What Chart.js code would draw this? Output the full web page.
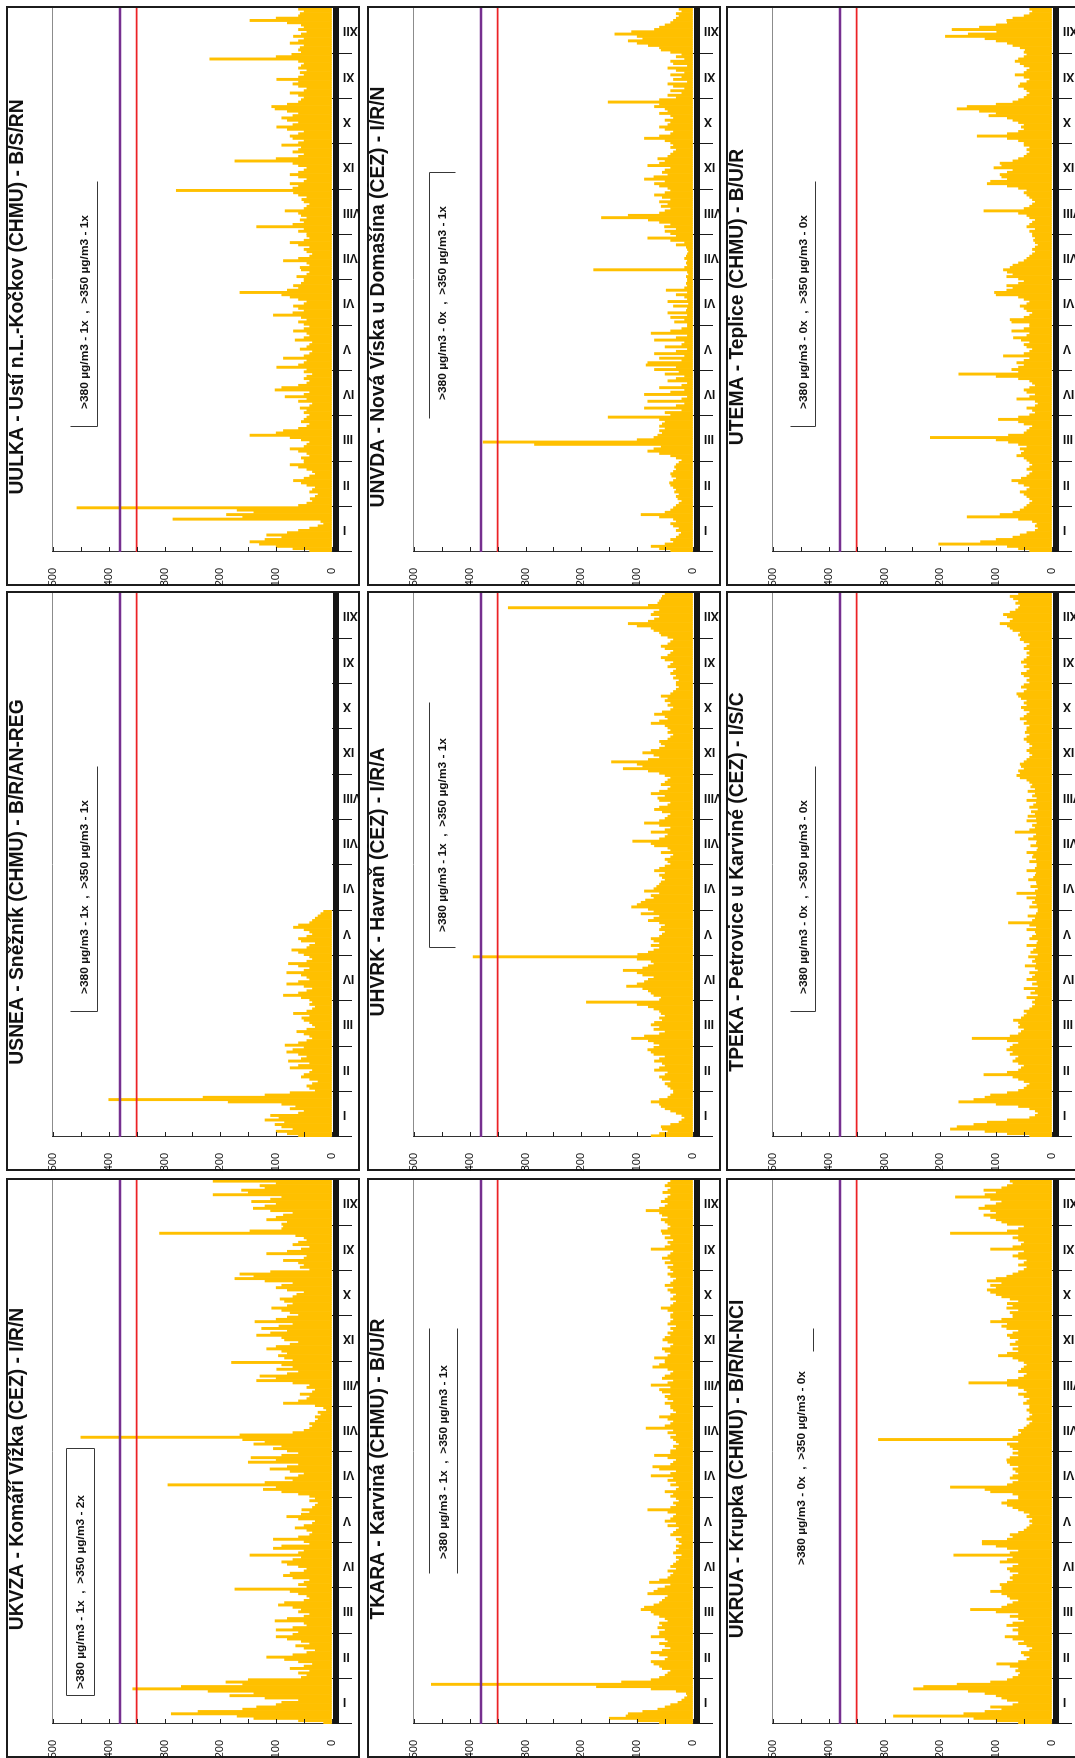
<!DOCTYPE html>
<html lang="cs">
<head>
<meta charset="utf-8">
<title>SO2 – hodinové koncentrace</title>
<script src="https://cdn.jsdelivr.net/npm/chart.js@4.4.1/dist/chart.umd.min.js"></script>
<style>
  html, body { margin: 0; padding: 0; background: #fff; }
  body { width: 1075px; height: 1758px; overflow: hidden; position: relative; }
  /* landscape sheet, turned to portrait */
  #sheet {
    position: absolute; left: 0; top: 0;
    width: 1758px; height: 1075px;
    transform-origin: 0 0;
    transform: translateY(1758px) rotate(-90deg);
    background: #fff;
  }
  .panel {
    position: absolute; width: 580px; height: 354px;
    box-sizing: border-box; border: 2px solid #1c1c1c;
  }
  .panel canvas { position: absolute; left: -2px; top: -2px; }
</style>
</head>
<body>
<div id="sheet"></div>
<script>
// ---- data -------------------------------------------------------------
const MONTHS = ['I', 'II', 'III', 'IV', 'V', 'VI', 'VII', 'VIII', 'IX', 'X', 'XI', 'XII'];
const SAMPLES_PER_MONTH = 20;
const LIMITS = [380, 350];

const STATION_TITLES = [
  'UKVZA - Komáří Vížka (ČEZ) - I/R/N',
  'USNEA - Sněžník (ČHMÚ) - B/R/AN-REG',
  'UULKA - Ústí n.L.-Kočkov (ČHMÚ) - B/S/RN',
  'TKARA - Karviná (ČHMÚ) - B/U/R',
  'UHVRK - Havraň (ČEZ) - I/R/A',
  'UNVDA - Nová Víska u Domašína (ČEZ) - I/R/N',
  'UKRUA - Krupka (ČHMÚ) - B/R/N-NCI',
  'TPEKA - Petrovice u Karviné (ČEZ) - I/S/C',
  'UTEMA - Teplice (ČHMÚ) - B/U/R'
];
const OVER_380 = [1, 1, 1, 1, 1, 0, 0, 0, 0];
const OVER_350 = [2, 1, 1, 1, 1, 1, 0, 0, 0];

// SO2 [µg/m3], one row per month
const UKVZA = [
  [15, 60, 140, 170, 288, 240, 160, 135, 100, 90, 60, 120, 183, 140, 222, 357, 270, 160, 190, 150],
  [55, 45, 60, 40, 75, 50, 35, 60, 85, 117, 70, 45, 30, 50, 65, 40, 55, 80, 100, 70],
  [60, 100, 70, 45, 50, 102, 80, 50, 40, 60, 55, 70, 96, 85, 50, 40, 45, 60, 75, 174],
  [45, 60, 50, 40, 70, 87, 75, 50, 45, 60, 80, 90, 70, 55, 147, 60, 50, 105, 90, 40],
  [50, 105, 60, 40, 35, 45, 66, 50, 35, 30, 60, 81, 55, 40, 54, 35, 30, 25, 40, 30],
  [40, 60, 90, 123, 100, 294, 120, 70, 84, 60, 50, 75, 111, 80, 60, 150, 100, 145, 90, 60],
  [80, 105, 90, 140, 120, 160, 450, 165, 70, 50, 40, 35, 40, 30, 25, 30, 20, 25, 10, 15],
  [30, 87, 60, 45, 40, 57, 35, 30, 45, 40, 70, 135, 100, 129, 80, 60, 99, 70, 90, 180],
  [70, 85, 96, 80, 90, 117, 100, 75, 60, 85, 90, 135, 110, 80, 126, 95, 70, 138, 100, 80],
  [60, 75, 90, 108, 80, 70, 85, 93, 70, 63, 50, 80, 100, 90, 70, 120, 174, 140, 165, 110],
  [40, 57, 50, 60, 87, 50, 45, 117, 80, 55, 40, 70, 60, 45, 50, 65, 309, 147, 90, 87],
  [90, 80, 117, 100, 87, 70, 110, 141, 120, 100, 144, 110, 90, 213, 150, 162, 120, 129, 100, 213]
];
const USNEA = [
  [60, 80, 100, 70, 90, 102, 85, 120, 95, 110, 60, 50, 75, 65, 90, 186, 400, 231, 120, 75],
  [30, 40, 45, 35, 25, 40, 55, 50, 40, 35, 75, 60, 40, 78, 55, 45, 60, 81, 70, 50],
  [84, 60, 45, 35, 40, 50, 63, 45, 30, 35, 40, 50, 54, 40, 69, 45, 35, 30, 40, 35],
  [40, 55, 87, 60, 45, 35, 50, 81, 60, 40, 45, 55, 81, 50, 40, 60, 78, 45, 35, 40],
  [50, 60, 72, 45, 40, 30, 55, 60, 45, 35, 40, 50, 69, 60, 40, 35, 30, 25, 20, 15],
  [], [], [], [], [], [], []
];
const UULKA = [
  [40, 70, 100, 130, 147, 120, 90, 117, 80, 60, 40, 25, 15, 20, 285, 160, 189, 140, 170, 457],
  [60, 45, 35, 39, 30, 25, 40, 35, 30, 45, 55, 69, 50, 40, 30, 35, 45, 60, 75, 50],
  [50, 55, 40, 45, 60, 75, 50, 45, 40, 55, 75, 147, 100, 87, 60, 45, 40, 55, 50, 45],
  [40, 50, 45, 57, 40, 35, 60, 45, 84, 50, 40, 102, 90, 60, 45, 40, 50, 45, 35, 50],
  [45, 99, 60, 50, 45, 87, 50, 40, 35, 57, 45, 40, 35, 66, 50, 40, 45, 69, 50, 40],
  [50, 60, 45, 55, 105, 70, 50, 60, 69, 50, 45, 60, 75, 90, 165, 80, 60, 69, 55, 50],
  [50, 63, 45, 40, 55, 57, 40, 45, 87, 60, 40, 35, 45, 50, 40, 60, 75, 50, 40, 45],
  [45, 60, 50, 135, 70, 50, 57, 45, 55, 60, 84, 50, 45, 40, 50, 54, 45, 60, 69, 279],
  [70, 60, 75, 50, 45, 60, 75, 60, 50, 45, 60, 70, 174, 100, 60, 50, 70, 60, 55, 90],
  [60, 50, 70, 75, 60, 50, 80, 99, 70, 60, 80, 90, 70, 60, 80, 102, 108, 80, 60, 55],
  [50, 60, 75, 50, 45, 60, 70, 60, 99, 60, 50, 57, 45, 60, 55, 50, 60, 219, 100, 72],
  [55, 60, 57, 50, 75, 60, 50, 69, 55, 45, 60, 50, 55, 80, 147, 100, 60, 57, 50, 60]
];
const TKARA = [
  [60, 100, 150, 120, 116, 90, 63, 50, 40, 27, 20, 15, 10, 12, 30, 75, 173, 469, 128, 75],
  [60, 50, 45, 40, 55, 60, 70, 75, 50, 45, 60, 75, 55, 40, 50, 60, 45, 50, 75, 60],
  [60, 50, 63, 55, 60, 45, 50, 60, 70, 75, 93, 87, 70, 60, 55, 50, 45, 81, 70, 63],
  [50, 40, 78, 60, 45, 40, 35, 45, 30, 40, 35, 30, 25, 30, 20, 35, 30, 25, 30, 20],
  [25, 30, 20, 40, 35, 30, 25, 45, 30, 50, 40, 35, 30, 45, 81, 40, 30, 35, 25, 30],
  [40, 35, 50, 30, 25, 40, 30, 45, 35, 75, 40, 30, 60, 72, 40, 35, 30, 45, 69, 40],
  [40, 30, 35, 25, 30, 35, 40, 30, 45, 35, 84, 50, 40, 35, 45, 60, 40, 30, 35, 40],
  [40, 50, 35, 45, 50, 40, 55, 60, 40, 75, 45, 35, 55, 50, 40, 35, 45, 72, 60, 50],
  [50, 69, 45, 40, 50, 55, 40, 35, 45, 54, 50, 40, 45, 35, 40, 30, 45, 40, 35, 40],
  [40, 35, 45, 57, 40, 35, 30, 40, 35, 30, 40, 45, 35, 50, 40, 35, 30, 40, 45, 35],
  [40, 45, 35, 50, 40, 55, 45, 40, 35, 75, 50, 40, 45, 35, 50, 40, 55, 57, 45, 40],
  [45, 50, 57, 45, 55, 60, 84, 60, 50, 45, 57, 50, 45, 40, 54, 45, 40, 50, 45, 40]
];
const UHVRK = [
  [75, 60, 45, 55, 57, 40, 25, 20, 15, 20, 30, 40, 50, 57, 60, 75, 60, 45, 40, 35],
  [35, 40, 45, 50, 40, 55, 60, 50, 45, 69, 60, 50, 55, 69, 60, 50, 70, 75, 81, 70],
  [60, 70, 80, 110, 87, 60, 50, 70, 60, 75, 69, 55, 60, 50, 57, 60, 70, 80, 100, 191],
  [60, 57, 70, 75, 80, 90, 119, 100, 87, 80, 70, 90, 100, 125, 90, 80, 70, 75, 100, 394],
  [99, 80, 70, 60, 75, 60, 70, 75, 60, 55, 50, 60, 57, 50, 60, 80, 70, 60, 93, 70],
  [80, 110, 100, 93, 85, 70, 75, 60, 87, 70, 65, 60, 57, 50, 55, 60, 50, 69, 60, 50],
  [40, 45, 50, 40, 35, 57, 40, 45, 69, 75, 108, 60, 50, 45, 75, 50, 40, 60, 87, 60],
  [50, 45, 40, 55, 69, 60, 45, 40, 60, 63, 50, 75, 60, 45, 40, 57, 50, 45, 40, 50],
  [60, 80, 125, 90, 100, 146, 80, 60, 70, 90, 75, 60, 50, 57, 60, 45, 40, 35, 45, 40],
  [45, 50, 75, 60, 45, 50, 69, 55, 40, 35, 45, 40, 50, 45, 57, 40, 35, 30, 25, 30],
  [30, 25, 35, 30, 40, 35, 30, 45, 40, 35, 50, 57, 45, 40, 35, 50, 57, 45, 40, 35],
  [45, 57, 60, 70, 75, 100, 116, 80, 69, 60, 75, 70, 60, 331, 80, 63, 60, 57, 55, 50]
];
const UNVDA = [
  [40, 60, 75, 50, 35, 40, 30, 25, 21, 30, 25, 35, 40, 30, 35, 60, 93, 50, 40, 35],
  [30, 25, 20, 27, 30, 25, 33, 30, 35, 40, 42, 35, 30, 38, 40, 35, 30, 33, 30, 25],
  [20, 30, 40, 60, 81, 70, 57, 284, 376, 100, 70, 63, 55, 60, 50, 60, 55, 50, 60, 152],
  [40, 50, 20, 87, 30, 15, 81, 20, 10, 87, 40, 15, 60, 20, 10, 45, 30, 15, 50, 25],
  [69, 30, 84, 81, 20, 60, 15, 69, 30, 10, 50, 20, 15, 69, 30, 10, 75, 40, 20, 10],
  [10, 33, 15, 40, 10, 45, 12, 10, 35, 8, 45, 10, 15, 30, 10, 48, 15, 10, 12, 10],
  [10, 12, 8, 10, 178, 15, 10, 12, 10, 15, 12, 10, 8, 10, 12, 30, 15, 40, 81, 30],
  [40, 50, 30, 51, 40, 60, 80, 164, 116, 60, 50, 40, 57, 45, 60, 40, 55, 69, 50, 40],
  [45, 60, 69, 50, 87, 70, 45, 55, 50, 40, 81, 60, 50, 63, 45, 40, 35, 30, 40, 35],
  [40, 50, 87, 60, 40, 35, 50, 60, 45, 40, 50, 35, 40, 60, 45, 50, 69, 60, 152, 60],
  [30, 45, 20, 40, 15, 35, 45, 10, 35, 20, 40, 15, 30, 45, 10, 35, 40, 15, 30, 20],
  [40, 57, 60, 80, 100, 116, 90, 100, 140, 110, 69, 60, 50, 40, 35, 30, 25, 30, 20, 25]
];
const UKRUA = [
  [60, 100, 140, 284, 158, 120, 90, 110, 70, 60, 80, 90, 100, 120, 150, 248, 230, 170, 110, 80],
  [70, 60, 57, 65, 60, 75, 99, 60, 45, 40, 50, 55, 40, 35, 45, 60, 50, 70, 84, 60],
  [60, 70, 60, 81, 70, 50, 60, 75, 60, 100, 146, 90, 80, 70, 60, 75, 80, 90, 110, 90],
  [90, 93, 80, 70, 75, 70, 60, 75, 80, 70, 60, 93, 80, 70, 176, 75, 60, 80, 100, 125],
  [125, 80, 70, 75, 60, 50, 45, 40, 35, 40, 35, 45, 40, 50, 60, 70, 80, 90, 80, 60],
  [60, 70, 110, 120, 182, 80, 70, 60, 75, 70, 60, 65, 70, 60, 75, 80, 81, 75, 60, 70],
  [60, 70, 75, 80, 60, 311, 70, 60, 55, 60, 50, 45, 40, 35, 45, 40, 35, 40, 45, 40],
  [40, 51, 45, 40, 50, 60, 45, 50, 60, 80, 149, 80, 60, 50, 45, 60, 55, 50, 45, 50],
  [60, 70, 96, 80, 60, 70, 60, 75, 65, 60, 75, 80, 70, 60, 81, 90, 80, 110, 90, 70],
  [70, 75, 60, 81, 70, 80, 60, 75, 90, 100, 110, 116, 100, 110, 90, 116, 100, 81, 70, 60],
  [50, 45, 60, 50, 45, 60, 70, 60, 50, 110, 70, 55, 50, 60, 70, 60, 182, 80, 60, 50],
  [80, 90, 100, 110, 122, 100, 110, 131, 120, 100, 90, 110, 173, 120, 100, 122, 90, 80, 70, 75]
];
const TPEKA = [
  [40, 80, 120, 182, 170, 140, 116, 80, 40, 30, 25, 30, 40, 60, 100, 167, 140, 120, 110, 80],
  [60, 50, 45, 40, 50, 60, 70, 122, 80, 60, 55, 50, 60, 70, 65, 60, 75, 70, 81, 75],
  [70, 60, 80, 143, 75, 60, 55, 50, 60, 57, 60, 69, 55, 50, 45, 50, 40, 35, 30, 35],
  [30, 45, 25, 38, 30, 50, 25, 35, 27, 45, 35, 30, 40, 25, 30, 48, 28, 35, 30, 42],
  [25, 38, 33, 28, 45, 27, 25, 40, 35, 28, 30, 45, 28, 40, 78, 35, 30, 43, 28, 25],
  [25, 40, 27, 35, 30, 45, 28, 63, 30, 25, 38, 27, 28, 42, 33, 30, 28, 45, 30, 27],
  [27, 40, 28, 35, 33, 45, 27, 25, 38, 28, 27, 42, 33, 28, 66, 40, 30, 35, 27, 45],
  [28, 43, 30, 37, 25, 40, 33, 28, 45, 27, 35, 30, 43, 30, 38, 35, 40, 45, 57, 63],
  [57, 60, 50, 55, 57, 50, 45, 40, 35, 40, 45, 40, 35, 40, 45, 50, 45, 40, 48, 45],
  [45, 40, 50, 45, 57, 50, 45, 40, 50, 55, 45, 50, 45, 55, 60, 63, 50, 45, 55, 50],
  [40, 45, 40, 50, 55, 45, 40, 50, 45, 55, 50, 45, 40, 45, 40, 50, 45, 40, 50, 57],
  [55, 60, 57, 70, 75, 80, 93, 75, 70, 80, 87, 75, 65, 60, 57, 65, 60, 69, 75, 60]
];
const UTEMA = [
  [40, 60, 80, 203, 128, 100, 70, 57, 45, 30, 25, 30, 27, 35, 60, 152, 93, 70, 57, 50],
  [45, 40, 35, 40, 45, 50, 57, 45, 40, 50, 60, 72, 55, 45, 40, 35, 45, 40, 35, 40],
  [45, 50, 63, 55, 50, 57, 45, 60, 78, 100, 218, 78, 50, 45, 40, 35, 50, 60, 96, 60],
  [40, 30, 35, 45, 30, 25, 30, 63, 40, 30, 45, 50, 40, 30, 35, 40, 60, 100, 167, 60],
  [72, 60, 50, 63, 50, 40, 87, 50, 40, 35, 45, 50, 40, 55, 69, 45, 40, 72, 50, 40],
  [40, 72, 75, 50, 40, 35, 45, 50, 57, 45, 40, 50, 60, 100, 103, 81, 70, 81, 60, 50],
  [60, 81, 70, 80, 87, 75, 70, 60, 50, 45, 40, 35, 30, 35, 30, 25, 30, 33, 30, 35],
  [35, 40, 30, 45, 40, 35, 30, 40, 45, 60, 122, 50, 40, 35, 30, 35, 40, 45, 50, 45],
  [60, 80, 116, 110, 80, 90, 93, 80, 70, 104, 90, 93, 70, 60, 50, 45, 40, 45, 40, 50],
  [50, 60, 80, 134, 80, 60, 50, 55, 50, 60, 70, 80, 113, 100, 130, 170, 152, 100, 70, 60],
  [50, 45, 40, 45, 50, 60, 57, 45, 40, 50, 66, 50, 45, 40, 50, 57, 66, 60, 50, 45],
  [50, 48, 57, 70, 80, 100, 120, 191, 150, 99, 179, 130, 100, 80, 81, 70, 50, 40, 35, 40]
];
const SERIES = [UKVZA, USNEA, UULKA, TKARA, UHVRK, UNVDA, UKRUA, TPEKA, UTEMA];

// ---- layout & style ---------------------------------------------------
const SHEET_LEFT = [0, 587, 1172];
const SHEET_TOP = [6, 367, 726];
const BAR_COLOR = '#FFC000';
const LIMIT_STYLE = [{ color: '#762f8f', width: 2.5 }, { color: '#ec2226', width: 1.8 }];
const NOTE_WIDTH = 194;
// note frame per panel: x-range, y-range, drawn edges (T,B,L,R), text centre
const NOTE_BOX = [
  { x0: 62, x1: 309, y0: 60, y1: 88, edges: 'TBLR', cx: 166 },
  { x0: 159, x1: 404, y0: 64, y1: 91, edges: 'LB', cx: 274 },
  { x0: 159, x1: 404, y0: 64, y1: 91, edges: 'LB', cx: 274 },
  { x0: 184, x1: 429, y0: 62, y1: 90, edges: 'TB', cx: 296 },
  { x0: 223, x1: 468, y0: 62, y1: 88, edges: 'TL', cx: 336 },
  { x0: 167, x1: 413, y0: 62, y1: 88, edges: 'TR', cx: 283 },
  { x0: 406, x1: 429, y0: 62, y1: 87, edges: 'B', cx: 290 },
  { x0: 159, x1: 404, y0: 64, y1: 89, edges: 'LB', cx: 274 },
  { x0: 159, x1: 404, y0: 64, y1: 89, edges: 'LB', cx: 274 }
];

Chart.defaults.font.family = '"Liberation Sans", Arial, Helvetica, sans-serif';
Chart.defaults.color = '#111';

// limit lines, heavy time axis, inner value ticks and the exceedance note
const panelDecor = {
  id: 'panelDecor',
  afterDatasetsDraw(chart, _args, opts) {
    const { ctx, chartArea: a } = chart;
    const y = chart.scales.y;
    ctx.save();

    LIMITS.forEach((v, k) => {
      const py = y.getPixelForValue(v);
      ctx.beginPath();
      ctx.strokeStyle = LIMIT_STYLE[k].color;
      ctx.lineWidth = LIMIT_STYLE[k].width;
      ctx.moveTo(a.left, py);
      ctx.lineTo(a.right, py);
      ctx.stroke();
    });

    ctx.fillStyle = '#151515';
    ctx.fillRect(a.left, a.bottom + 1, a.right - a.left, 6);

    ctx.strokeStyle = '#222';
    ctx.lineWidth = 1;
    for (let v = y.min; v <= y.max; v += 50) {
      const py = Math.round(y.getPixelForValue(v)) + 0.5;
      ctx.beginPath();
      ctx.moveTo(a.left, py);
      ctx.lineTo(a.left + 5, py);
      ctx.stroke();
    }

    const b = opts.box;
    ctx.strokeStyle = '#383838';
    const line = (x1, y1, x2, y2) => {
      ctx.beginPath();
      ctx.moveTo(Math.round(x1) + 0.5, Math.round(y1) + 0.5);
      ctx.lineTo(Math.round(x2) + 0.5, Math.round(y2) + 0.5);
      ctx.stroke();
    };
    if (b.edges.includes('T')) line(b.x0, b.y0, b.x1, b.y0);
    if (b.edges.includes('B')) line(b.x0, b.y1, b.x1, b.y1);
    if (b.edges.includes('L')) line(b.x0, b.y0, b.x0, b.y1);
    if (b.edges.includes('R')) line(b.x1, b.y0, b.x1, b.y1);

    ctx.font = 'bold 11px "Liberation Sans Narrow", "Liberation Sans", Arial, sans-serif';
    const w = ctx.measureText(opts.text).width;
    ctx.translate(b.cx, (b.y0 + b.y1) / 2 + 1);
    ctx.scale(NOTE_WIDTH / w, 1);
    ctx.fillStyle = '#111';
    ctx.textAlign = 'center';
    ctx.textBaseline = 'middle';
    ctx.fillText(opts.text, 0, 0);
    ctx.restore();
  }
};

const sheet = document.getElementById('sheet');

SERIES.forEach((months, i) => {
  const panel = document.createElement('div');
  panel.className = 'panel';
  panel.style.left = SHEET_LEFT[i % 3] + 'px';
  panel.style.top = SHEET_TOP[Math.floor(i / 3)] + 'px';
  const canvas = document.createElement('canvas');
  canvas.width = 580;
  canvas.height = 354;
  canvas.style.width = '580px';
  canvas.style.height = '354px';
  panel.appendChild(canvas);
  sheet.appendChild(panel);

  // months without measurements stay empty
  const values = months.flatMap(m => m.length ? m : new Array(SAMPLES_PER_MONTH).fill(null));
  const note = '>380 µg/m3 - ' + OVER_380[i] + 'x  ,  >350 µg/m3 - ' + OVER_350[i] + 'x';

  new Chart(canvas, {
    type: 'bar',
    data: {
      labels: values.map((_, k) => k),
      datasets: [{
        data: values,
        backgroundColor: BAR_COLOR,
        borderWidth: 0,
        barPercentage: 1,
        categoryPercentage: 1,
        xAxisID: 'xd',
        yAxisID: 'y'
      }]
    },
    options: {
      responsive: false,
      animation: false,
      devicePixelRatio: 1,
      events: [],
      layout: { padding: { right: 2 } },
      plugins: {
        legend: { display: false },
        tooltip: { enabled: false },
        title: {
          display: true,
          text: STATION_TITLES[i],
          color: '#111',
          font: { size: 19.3, weight: 'bold' },
          padding: { top: 0, bottom: 23.8 }
        },
        panelDecor: { box: NOTE_BOX[i], text: note }
      },
      scales: {
        x: {
          type: 'category',
          labels: MONTHS,
          position: 'bottom',
          offset: true,
          grid: { offset: true, drawOnChartArea: false, tickLength: 20, color: '#1a1a1a', lineWidth: 1 },
          border: { display: false },
          ticks: {
            autoSkip: false, minRotation: 90, maxRotation: 90, padding: -9,
            font: { size: 12, weight: 'bold' }, color: '#111'
          },
          afterFit(scale) { scale.height = 28; }
        },
        xd: { type: 'category', display: false, offset: true },
        y: {
          type: 'linear',
          position: 'left',
          min: 0,
          max: 500,
          ticks: { stepSize: 100, padding: 16, font: { size: 11 }, color: '#111' },
          grid: {
            drawTicks: false,
            lineWidth: 1,
            color: c => (c.tick && c.tick.value === 500) ? '#8c8c8c' : 'rgba(0,0,0,0)'
          },
          border: { display: true, color: '#333', width: 1 },
          afterFit(scale) { scale.width = 34; }
        }
      }
    },
    plugins: [panelDecor]
  });
});
</script>
</body>
</html>
